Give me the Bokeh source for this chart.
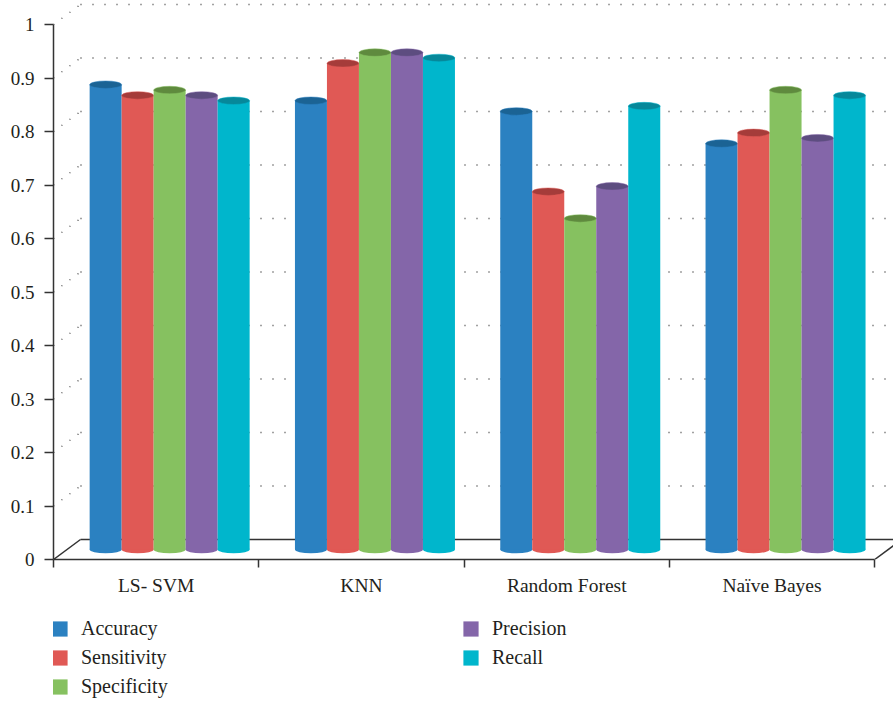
from bokeh.plotting import figure
from bokeh.models import (Range1d, FixedTicker, Legend, LegendItem, ColumnDataSource, LinearAxis)
from bokeh.layouts import column
from bokeh.embed import file_html
from bokeh.resources import INLINE

# ---------------- data ----------------
categories = ["LS- SVM", "KNN", "Random Forest", "Naïve Bayes"]
series = ["Accuracy", "Sensitivity", "Specificity", "Precision", "Recall"]
accuracy    = [0.88, 0.85, 0.83, 0.77]
sensitivity = [0.86, 0.92, 0.68, 0.79]
specificity = [0.87, 0.94, 0.63, 0.87]
precision   = [0.86, 0.94, 0.69, 0.78]
recall      = [0.85, 0.93, 0.84, 0.86]
y_ticks = [0, 0.1, 0.2, 0.3, 0.4, 0.5, 0.6, 0.7, 0.8, 0.9, 1.0]
y_tick_labels = ["0", "0.1", "0.2", "0.3", "0.4", "0.5", "0.6", "0.7", "0.8", "0.9", "1"]

values = [accuracy, sensitivity, specificity, precision, recall]
body_colors = ["#2b81c1", "#e05955", "#86c160", "#8466a9", "#00b6cc"]
top_colors = ["#1b6394", "#a53c3a", "#5f8a3e", "#5d4d80", "#06889a"]

# ---------------- geometry ----------------
W, H = 893, 701
H1 = 610                      # chart part height
H2 = H - H1                   # legend strip height
frame_left, frame_bottom = 53, 559
px_per_cat = 205.3
px_per_unit = 535.0
x_end = (W - frame_left) / px_per_cat
y_end = frame_bottom / px_per_unit
dx = 27 / px_per_cat      # depth offset in x (data units)
dy = 20 / px_per_unit     # depth offset in y (data units)
bw = 32 / px_per_cat      # bar width
eh = 7.5 / px_per_unit    # ellipse height
n_cat = len(categories)

FONT = "Liberation Serif"
TXT = "#231f20"
AX = "#333333"

p = figure(width=W, height=H1, output_backend="svg", toolbar_location=None,
           x_range=Range1d(0, x_end), y_range=Range1d(0, y_end),
           min_border_left=frame_left, min_border_right=0, min_border_top=0,
           min_border_bottom=H1 - frame_bottom, outline_line_color=None,
           background_fill_color="white", border_fill_color="white")
p.grid.visible = False
p.xaxis.visible = False
p.yaxis.visible = False

yax = LinearAxis(ticker=FixedTicker(ticks=y_ticks), bounds=(0, 1),
                 major_label_overrides={t: l for t, l in zip(y_ticks, y_tick_labels)})
yax.axis_line_color = AX
yax.axis_line_width = 1.5
yax.major_tick_line_color = AX
yax.major_tick_line_width = 1.5
yax.major_tick_out = 9
yax.major_tick_in = 0
yax.minor_tick_line_color = None
yax.major_label_standoff = 10
yax.major_label_text_font = FONT
yax.major_label_text_font_size = "19px"
yax.major_label_text_color = TXT
p.add_layout(yax, "left")

cat_centers = [i + 0.5 for i in range(n_cat)]
xax = LinearAxis(ticker=FixedTicker(ticks=cat_centers, minor_ticks=list(range(n_cat + 1))),
                 bounds=(0, n_cat),
                 major_label_overrides={c: l for c, l in zip(cat_centers, categories)})
xax.axis_line_color = AX
xax.axis_line_width = 1.5
xax.major_tick_line_color = None
xax.major_tick_out = 0
xax.major_tick_in = 0
xax.minor_tick_line_color = AX
xax.minor_tick_line_width = 1.5
xax.minor_tick_out = 8
xax.minor_tick_in = 0
xax.major_label_standoff = 7
xax.major_label_text_font = FONT
xax.major_label_text_font_size = "19.5px"
xax.major_label_text_color = TXT
p.add_layout(xax, "below")

# ---------------- back wall grid (dotted) ----------------
grid_vals = y_ticks[1:]
p.segment(x0=[dx] * len(grid_vals), y0=[v + dy for v in grid_vals],
          x1=[x_end] * len(grid_vals), y1=[v + dy for v in grid_vals],
          line_color="#444444", line_width=1.3, line_dash="1 11")
p.segment(x0=[0] * len(grid_vals), y0=grid_vals,
          x1=[dx] * len(grid_vals), y1=[v + dy for v in grid_vals],
          line_color="#444444", line_width=1.3, line_dash="1 9")

# ---------------- floor ----------------
p.segment(x0=[0, dx, n_cat], y0=[0, dy, 0], x1=[dx, x_end, n_cat + dx], y1=[dy, dy, dy],
          line_color=AX, line_width=1.5)

# ---------------- cylinders ----------------
base = dy / 2
for s, (name, vals) in enumerate(zip(series, values)):
    xs = [c + dx / 2 + (s - 2) * bw for c in cat_centers]
    tops = [v + 0.0075 for v in vals]
    src = ColumnDataSource(dict(x=xs, top=tops, bottom=[base] * n_cat))
    p.ellipse(x="x", y="bottom", width=bw, height=eh, source=src,
              fill_color=body_colors[s], line_color=None)
    p.vbar(x="x", width=bw, top="top", bottom="bottom", source=src,
           fill_color=body_colors[s], line_color=None)
    p.ellipse(x="x", y="top", width=bw, height=eh, source=src,
              fill_color=top_colors[s], line_color=body_colors[s], line_width=0.8,
              line_alpha=0.6)

# ---------------- legend strip ----------------
q = figure(width=W, height=H2, output_backend="svg", toolbar_location=None,
           x_axis_type=None, y_axis_type=None, x_range=Range1d(0, 1), y_range=Range1d(0, 1),
           min_border=0, outline_line_color=None,
           background_fill_color="white", border_fill_color="white")
q.grid.visible = False
legend_items = []
for s, name in enumerate(series):
    # zero-height swatch renderer: draws nothing, only supplies the legend key colour
    r = q.vbar(x=[0.5], top=[0], bottom=[0], width=0.0, fill_color=body_colors[s],
               line_color=None)
    legend_items.append(LegendItem(label=name, renderers=[r]))

legend = Legend(items=legend_items, nrows=3, orientation="vertical",
                location=(-3, 3), glyph_width=19, glyph_height=19,
                label_standoff=12, label_width=374, label_height=22, spacing=6,
                padding=0, margin=0, border_line_color=None,
                background_fill_color=None,
                label_text_font=FONT, label_text_font_size="20px",
                label_text_color=TXT)
q.add_layout(legend, "center")

layout = column(p, q, spacing=0)
open("out.html", "w").write(file_html(layout, INLINE))
